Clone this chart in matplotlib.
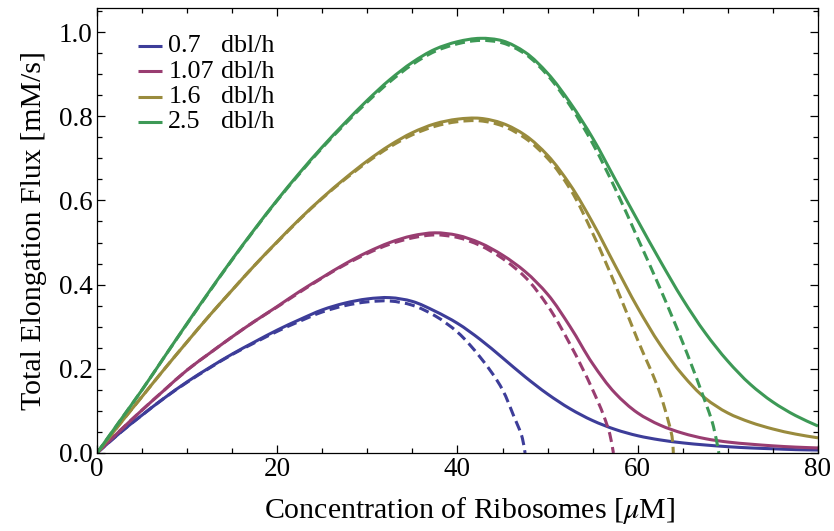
import matplotlib
matplotlib.use("Agg")
import numpy as np
import matplotlib.pyplot as plt
from matplotlib.path import Path
from matplotlib.patches import PathPatch
from matplotlib.ticker import MultipleLocator

plt.rcParams['font.family'] = ['Liberation Serif', 'DejaVu Serif']
plt.rcParams['mathtext.fontset'] = 'stix'

# growth rates (doublings per hour)
rates = ['0.7', '1.07', '1.6', '2.5']
colors = [(0.24, 0.24, 0.6), (0.6, 0.24, 0.4428), (0.6, 0.547, 0.24), (0.24, 0.6, 0.337)]

# full model (solid) sampled every 2.5 uM
x_full = [0, 2.5, 5, 7.5, 10, 12.5, 15, 17.5, 20, 22.5, 25, 27.5, 30, 32.5, 35, 37.5,
          40, 42.5, 45, 47.5, 50, 52.5, 55, 57.5, 60, 62.5, 65, 67.5, 70, 72.5, 75, 77.5, 80]
flux_07 = [0, 0.047, 0.090, 0.131, 0.169, 0.203, 0.235, 0.264, 0.292, 0.317, 0.340, 0.356,
           0.366, 0.369, 0.360, 0.337, 0.308, 0.270, 0.226, 0.181, 0.140, 0.105, 0.077,
           0.056, 0.041, 0.031, 0.024, 0.019, 0.015, 0.012, 0.010, 0.008, 0.007]
flux_107 = [0, 0.052, 0.102, 0.150, 0.197, 0.237, 0.276, 0.313, 0.348, 0.384, 0.417, 0.449,
            0.477, 0.500, 0.516, 0.523, 0.517, 0.499, 0.470, 0.431, 0.377, 0.300, 0.212,
            0.142, 0.095, 0.066, 0.047, 0.034, 0.026, 0.021, 0.017, 0.014, 0.012]
flux_16 = [0, 0.068, 0.134, 0.200, 0.264, 0.327, 0.387, 0.446, 0.502, 0.556, 0.606, 0.652,
           0.694, 0.731, 0.761, 0.782, 0.793, 0.795, 0.783, 0.755, 0.707, 0.637, 0.547,
           0.445, 0.345, 0.257, 0.185, 0.130, 0.095, 0.073, 0.057, 0.045, 0.036]
flux_25 = [0, 0.075, 0.150, 0.229, 0.308, 0.385, 0.460, 0.532, 0.601, 0.666, 0.727, 0.784,
           0.838, 0.887, 0.928, 0.959, 0.977, 0.985, 0.979, 0.952, 0.902, 0.832, 0.748,
           0.650, 0.552, 0.456, 0.365, 0.285, 0.218, 0.163, 0.121, 0.089, 0.064]

# approximation (dashed), each ends where the flux hits zero
x_apx_07 = [0, 2.5, 5, 7.5, 10, 12.5, 15, 17.5, 20, 22.5, 25, 27.5, 30, 32.5, 35, 37.5,
            40, 42.5, 45, 46.2, 47.2, 47.5]
apx_07 = [0, 0.047, 0.090, 0.131, 0.168, 0.202, 0.234, 0.262, 0.289, 0.313, 0.335, 0.350,
          0.359, 0.361, 0.351, 0.326, 0.287, 0.228, 0.150, 0.090, 0.035, 0.0]
x_apx_107 = [0, 2.5, 5, 7.5, 10, 12.5, 15, 17.5, 20, 22.5, 25, 27.5, 30, 32.5, 35, 37.5,
             40, 42.5, 45, 47.5, 50, 52.5, 55, 56.2, 56.9, 57.3]
apx_107 = [0, 0.052, 0.102, 0.150, 0.197, 0.237, 0.276, 0.313, 0.347, 0.382, 0.416, 0.447,
           0.474, 0.496, 0.511, 0.518, 0.512, 0.493, 0.462, 0.418, 0.350, 0.258, 0.150,
           0.090, 0.045, 0.0]
x_apx_16 = [0, 2.5, 5, 7.5, 10, 12.5, 15, 17.5, 20, 22.5, 25, 27.5, 30, 32.5, 35, 37.5,
            40, 42.5, 45, 47.5, 50, 52.5, 55, 57.5, 60, 62.5, 63.4, 63.8, 63.95]
apx_16 = [0, 0.068, 0.134, 0.200, 0.264, 0.327, 0.387, 0.446, 0.501, 0.555, 0.605, 0.650,
          0.691, 0.727, 0.756, 0.776, 0.787, 0.789, 0.777, 0.748, 0.700, 0.627, 0.522,
          0.400, 0.268, 0.140, 0.075, 0.040, 0.0]
x_apx_25 = [0, 2.5, 5, 7.5, 10, 12.5, 15, 17.5, 20, 22.5, 25, 27.5, 30, 32.5, 35, 37.5,
            40, 42.5, 45, 47.5, 50, 52.5, 55, 57.5, 60, 62.5, 65, 67, 68.4, 69.0]
apx_25 = [0, 0.075, 0.150, 0.229, 0.307, 0.384, 0.459, 0.531, 0.600, 0.664, 0.725, 0.781,
          0.834, 0.882, 0.923, 0.954, 0.972, 0.980, 0.974, 0.948, 0.897, 0.825, 0.735,
          0.628, 0.510, 0.390, 0.262, 0.150, 0.063, 0.0]

solid = [flux_07, flux_107, flux_16, flux_25]
dashed = [(x_apx_07, apx_07), (x_apx_107, apx_107), (x_apx_16, apx_16), (x_apx_25, apx_25)]


def smooth_path(xs, ys):
    # cubic Bezier through every sample, tangents from chord-length parameter
    p = np.column_stack([xs, ys]).astype(float)
    s = p * [9.0, 421.0]
    t = np.concatenate([[0], np.cumsum(np.hypot(*np.diff(s, axis=0).T))])
    m = np.gradient(p, t, axis=0)
    verts, codes = [p[0]], [Path.MOVETO]
    for i in range(len(p) - 1):
        h = t[i + 1] - t[i]
        verts += [p[i] + m[i] * h / 3, p[i + 1] - m[i + 1] * h / 3, p[i + 1]]
        codes += [Path.CURVE4] * 3
    return Path(verts, codes)


fig = plt.figure(figsize=(8.34, 5.31), dpi=100)
ax = fig.add_axes([0.1163, 0.1469, 0.8645, 0.8380])

for y, (xd, yd), c in zip(solid, dashed, colors):
    ax.add_patch(PathPatch(smooth_path(x_full, y), fill=False, edgecolor=c, lw=2.2,
                           capstyle='butt'))
    ax.add_patch(PathPatch(smooth_path(xd, yd), fill=False, edgecolor=c, lw=2.2,
                           linestyle=(0, (3.3, 1.7)), capstyle='butt'))

ax.set_xlim(0, 80)
ax.set_ylim(0, 1.057)
ax.xaxis.set_major_locator(MultipleLocator(20))
ax.xaxis.set_minor_locator(MultipleLocator(5))
ax.yaxis.set_major_locator(MultipleLocator(0.2))
ax.yaxis.set_minor_locator(MultipleLocator(0.05))
ax.yaxis.set_major_formatter(lambda v, p: f'{v:.1f}')
ax.tick_params(which='both', direction='in', top=True, right=True, width=0.9,
               labelsize=19.5, pad=3)
ax.tick_params(which='major', length=6)
ax.tick_params(which='minor', length=3.5)
for sp in ax.spines.values():
    sp.set_linewidth(0.9)

ax.set_xlabel(r'Concentration of Ribosomes [$\mu$M]', fontsize=21.5)
ax.set_ylabel('Total Elongation Flux [mM/s]', fontsize=21.5)
ax.xaxis.set_label_coords(0.517, -0.095)
ax.yaxis.set_label_coords(-0.069, 0.5)

# legend drawn by hand so the "dbl/h" column lines up
line_y = [0.9153, 0.8584, 0.8007, 0.7445]
base_y = [0.9004, 0.8420, 0.7858, 0.7297]
for r, c, ly, by in zip(rates, colors, line_y, base_y):
    ax.plot([0.0569, 0.0902], [ly, ly], color=c, lw=2.2, transform=ax.transAxes,
            solid_capstyle='butt')
    ax.text(0.0989, by, r, fontsize=18.7, va='baseline', ha='left', transform=ax.transAxes)
    ax.text(0.0989 + 0.0725, by, 'dbl/h', fontsize=18.7, va='baseline', ha='left',
            transform=ax.transAxes)

fig.savefig('out.png', dpi=100)
